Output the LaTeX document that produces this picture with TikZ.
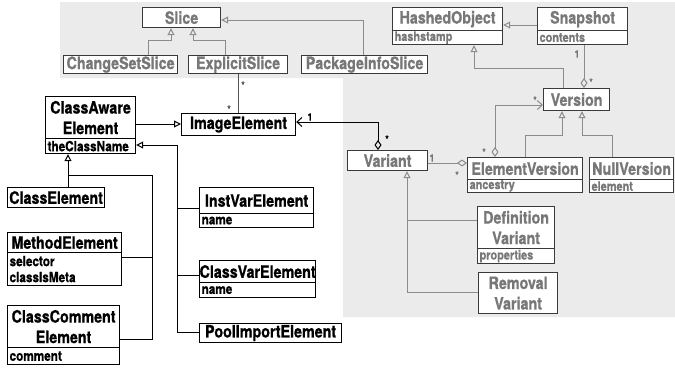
\documentclass[tikz,border=0pt]{standalone}
\usepackage{fontspec}
\newfontfamily\umlf[FakeStretch=0.84,FakeBold=0.8]{TeX Gyre Heros}
\usetikzlibrary{arrows.meta}
\definecolor{bgc}{HTML}{EBEBEB}
\definecolor{gtext}{HTML}{777777}
\definecolor{gline}{HTML}{8C8C8C}
\definecolor{gborder}{HTML}{3A3A3A}
\definecolor{dline}{HTML}{555555}
\tikzset{
 cls/.style={draw, line width=1.2pt, fill=white, inner sep=0pt, anchor=north west, align=center, font=\umlf\bfseries\fontsize{17}{20.5}\selectfont},
 attr/.style={draw, line width=1.2pt, fill=white, inner xsep=2pt, inner ysep=0pt, anchor=north west, align=left, font=\umlf\bfseries\fontsize{14}{16}\selectfont},
 gcls/.style={cls, draw=gborder, text=gtext},
 gattr/.style={attr, draw=gborder, text=gtext, font=\umlf\bfseries\fontsize{13}{14}\selectfont},
 conn/.style={line width=1pt},
 gen/.style={conn, -{Triangle[open,length=7pt,width=7pt]}},
 ggen/.style={gen, draw=gline},
 mult/.style={font=\umlf\bfseries\fontsize{10}{10}\selectfont, inner sep=0pt},
 gmult/.style={mult, text=gtext},
 dia/.tip={Diamond[open,length=10pt,width=7pt]},
 barb/.tip={Straight Barb[length=5pt,width=9pt]},
}
\begin{document}
\begin{tikzpicture}[x=1pt,y=-1pt]
\useasboundingbox (0,0) rectangle (675,367);
\fill[bgc] (60,2) -- (675,2) -- (675,317) -- (343,317) -- (343,78) -- (60,78) -- cycle;

% gray area classes
\node[gcls, minimum width=78pt, minimum height=20pt] (slice) at (142,7) {Slice};
\node[gcls, minimum width=114pt, minimum height=18pt] (css) at (63,55) {ChangeSetSlice};
\node[gcls, minimum width=99pt, minimum height=18pt] (es) at (188,55) {ExplicitSlice};
\node[gcls, minimum width=126pt, minimum height=18pt] (pis) at (301,55) {PackageInfoSlice};
\node[gcls, minimum width=110pt, minimum height=23pt] (ho) at (392,7) {HashedObject};
\node[gattr, text width=106pt, minimum height=14pt] (hoa) at (392,30) {hashstamp};
\node[gcls, minimum width=90pt, minimum height=23pt] (snap) at (537,7) {Snapshot};
\node[gattr, text width=86pt, minimum height=14pt] (snapa) at (537,30) {contents};
\node[gcls, minimum width=66pt, minimum height=22pt] (ver) at (543,88) {Version};
\node[gcls, minimum width=115pt, minimum height=22pt] (ev) at (467,157) {ElementVersion};
\node[gattr, text width=111pt, minimum height=13pt] (eva) at (467,179) {ancestry};
\node[gcls, minimum width=84pt, minimum height=22pt] (nv) at (589,157) {NullVersion};
\node[gattr, text width=80pt, minimum height=13pt] (nva) at (589,179) {element};
\node[gcls, minimum width=80pt, minimum height=20pt] (var) at (347,150) {Variant};
\node[gcls, minimum width=77pt, minimum height=42pt] (dv) at (477,206) {Definition\\Variant};
\node[gattr, text width=73pt, minimum height=15pt] (dva) at (477,248) {properties};
\node[gcls, minimum width=79pt, minimum height=41pt] (rv) at (478,272) {Removal\\Variant};

% white area classes
\node[cls, minimum width=90pt, minimum height=42pt] (cae) at (45,96) {ClassAware\\Element};
\node[attr, text width=86pt, minimum height=15pt] (caea) at (45,138) {theClassName};
\node[cls, minimum width=114pt, minimum height=22pt] (ie) at (181,113) {ImageElement};
\node[cls, minimum width=97pt, minimum height=20pt] (ce) at (7,187) {ClassElement};
\node[cls, minimum width=114pt, minimum height=26pt] (ive) at (199,187) {InstVarElement};
\node[attr, text width=110pt, minimum height=14pt] (ivea) at (199,213) {name};
\node[cls, minimum width=114pt, minimum height=20pt] (me) at (7,232) {MethodElement};
\node[attr, text width=110pt, minimum height=33pt] (mea) at (7,252) {selector\\classIsMeta};
\node[cls, minimum width=112pt, minimum height=42pt] (cce) at (7,305) {ClassComment\\Element};
\node[attr, text width=108pt, minimum height=17pt] (ccea) at (7,347) {comment};
\node[cls, minimum width=116pt, minimum height=22pt] (cve) at (199,260) {ClassVarElement};
\node[attr, text width=112pt, minimum height=15pt] (cvea) at (199,282) {name};
\node[cls, minimum width=142pt, minimum height=19pt] (pie) at (199,323) {PoolImportElement};

% connectors in gray area
\draw[ggen] (148,0 |- css.north) |- (171,40) -- (171,0 |- slice.south);
\draw[ggen] (225,0 |- es.north) |- (193,40) -- (193,0 |- slice.south);
\draw[ggen] (363,0 |- pis.north) |- (slice.east |- 0,20);
\draw[ggen] (snap.west |- 0,25) -- (ho.east |- 0,25);
\draw[ggen] (563,0 |- ver.north) |- (474,68) -- (474,0 |- hoa.south);
\draw[conn, gline, -dia] (584,0 |- snapa.south) -- (584,0 |- ver.north);
\draw[conn, gline, dia-barb] (495,0 |- ev.north) |- (ver.west |- 0,105);
\draw[ggen] (525,0 |- ev.north) |- (562,135) -- (562,0 |- ver.south);
\draw[ggen] (612,0 |- nv.north) |- (582,135) -- (582,0 |- ver.south);
\draw[conn, gline, -dia] (var.east |- 0,163) -- (ev.west |- 0,163);
\coordinate (vj) at (407,220);
\draw[ggen] (dv.west |- vj) -- (vj) -- (407,0 |- var.south);
\draw[conn, gline] (rv.west |- 0,292) -| (vj);

% connectors between areas and in white area
\draw[conn, dline] (238,0 |- es.south) -- (238,0 |- ie.north);
\draw[gen] (cae.east |- 0,124) -- (ie.west |- 0,124);
\draw[conn, dia-barb] (378,0 |- var.north) |- (ie.east |- 0,122);
\coordinate (rj) at (177,145);
\draw[gen] (pie.west |- 0,332) -| (rj) -- (caea.east |- rj);
\draw[conn] (ive.west |- 0,208) -- (177,208);
\draw[conn] (cve.west |- 0,275) -- (177,275);
\draw[gen] (68,0 |- ce.north) -- (68,0 |- caea.south);
\coordinate (lj) at (68,175);
\draw[conn] (lj) -| (152,339) -- (cce.east |- 0,339);
\draw[conn] (mea.east |- 0,257) -- (152,257);

% multiplicities
\node[mult, text=dline] (m1) at (243,85) {*};
\node[mult, text=dline] (m2) at (229,109) {*};
\node[mult] (m3) at (310,117) {1};
\node[mult] (m4) at (387,139) {*};
\node[gmult] (m5) at (577,54) {1};
\node[gmult] (m6) at (591,82) {*};
\node[gmult] (m7) at (484,152) {*};
\node[gmult] (m8) at (535,100) {*};
\node[gmult] (m9) at (432,158) {1};
\node[gmult] (m10) at (457,175) {*};
\end{tikzpicture}
\end{document}
